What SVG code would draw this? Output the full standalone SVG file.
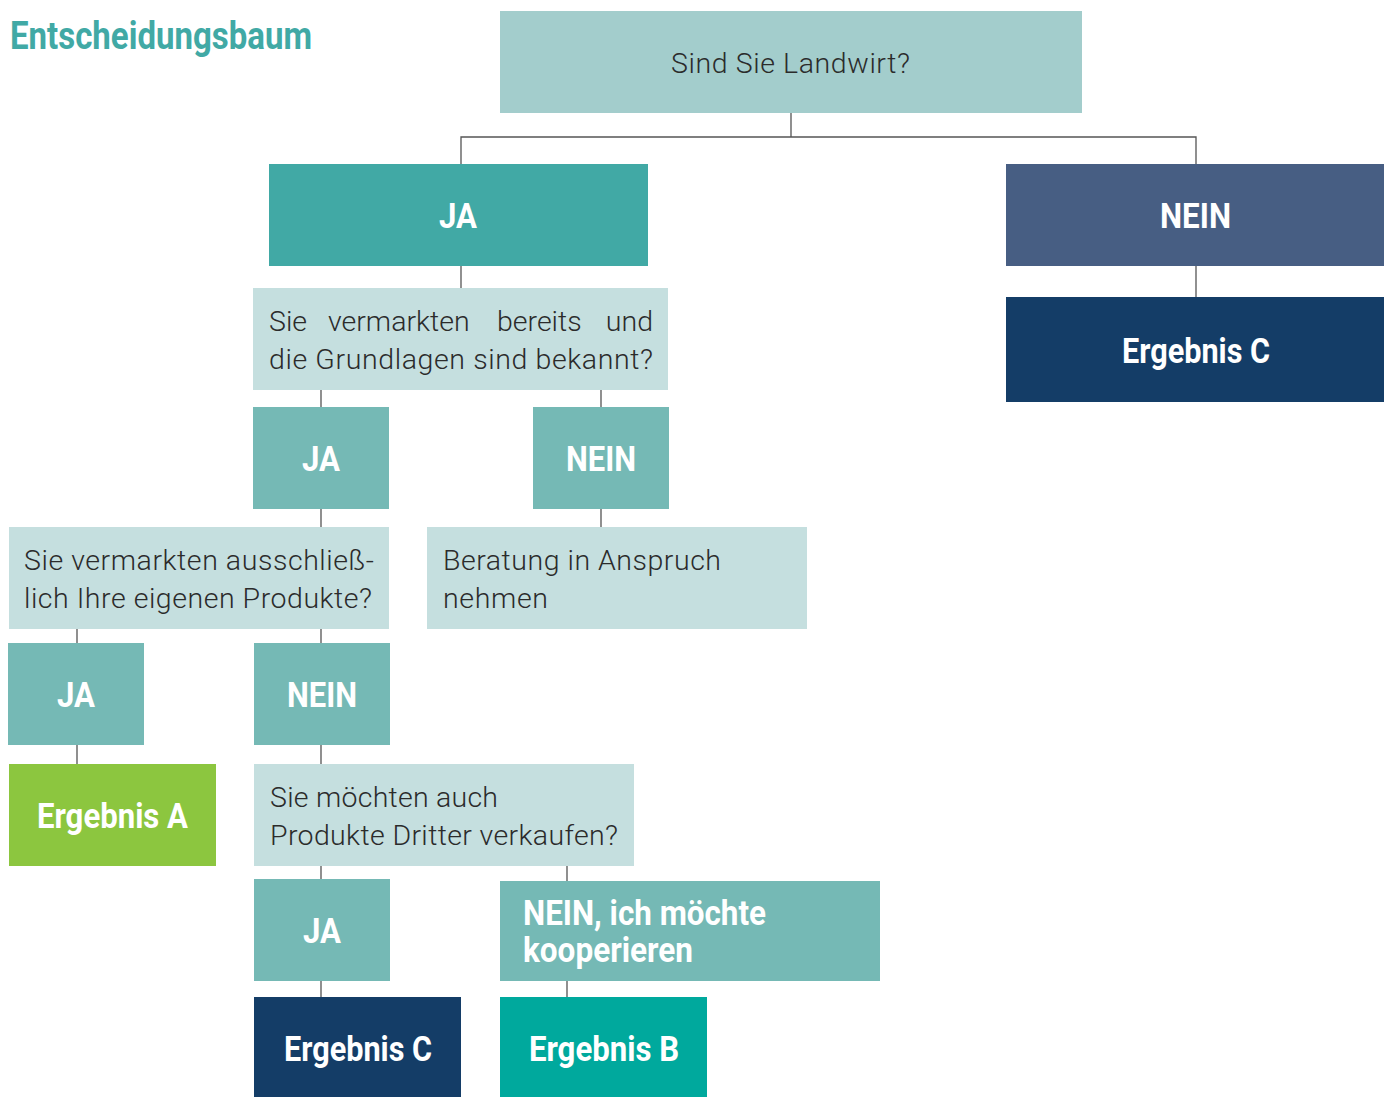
<svg xmlns="http://www.w3.org/2000/svg" width="1384" height="1098" viewBox="0 0 1384 1098">
<style>
.b{font-family:Roboto,"Liberation Sans",sans-serif;font-weight:bold;fill:#fff;font-size:35px}
.c{text-anchor:middle}
.r{font-family:Roboto,"Liberation Sans",sans-serif;font-weight:300;fill:#2b2b2b;font-size:28.5px}
.ln{stroke:#555;stroke-width:1.3;fill:none}
</style>
<rect width="1384" height="1098" fill="#fff"/>
<text x="10" y="49" class="b" style="fill:#41a9a5;font-size:39px" textLength="302" lengthAdjust="spacingAndGlyphs">Entscheidungsbaum</text>
<g id="connectors">
<path class="ln" d="M791,113V137M461,164V137H1196V164"/>
<path class="ln" d="M1196,266V297"/>
<path class="ln" d="M461,266V288"/>
<path class="ln" d="M321,390V407M601,390V407"/>
<path class="ln" d="M321,509V527M601,509V527"/>
<path class="ln" d="M77,629V643M321,629V643"/>
<path class="ln" d="M77,745V764M321,745V764"/>
<path class="ln" d="M321,866V879M567,866V881"/>
<path class="ln" d="M321,981V997M567,981V997"/>
</g>
<g id="q1"><rect x="500" y="11" width="582" height="102" fill="#a3cdcc"/><text x="671" y="73" class="r" textLength="239" lengthAdjust="spacing">Sind Sie Landwirt?</text></g>
<g id="ja1"><rect x="269" y="164" width="379" height="102" fill="#41a9a5"/><text x="439" y="228" class="b" textLength="38" lengthAdjust="spacingAndGlyphs">JA</text></g>
<g id="nein1"><rect x="1006" y="164" width="378" height="102" fill="#475e83"/><text x="1160" y="228" class="b" textLength="71" lengthAdjust="spacingAndGlyphs">NEIN</text></g>
<g id="ergC1"><rect x="1006" y="297" width="378" height="105" fill="#143d67"/><text x="1122" y="363" class="b" textLength="148" lengthAdjust="spacingAndGlyphs">Ergebnis C</text></g>
<g id="q2"><rect x="253" y="288" width="415" height="102" fill="#c5dfdf"/>
<text class="r" y="331"><tspan x="269">Sie</tspan><tspan x="328">vermarkten</tspan><tspan x="497">bereits</tspan><tspan x="653" text-anchor="end">und</tspan></text>
<text x="269" y="369" class="r" textLength="384" lengthAdjust="spacing">die Grundlagen sind bekannt?</text></g>
<g id="ja2"><rect x="253" y="407" width="136" height="102" fill="#75b9b5"/><text x="302" y="471" class="b" textLength="38" lengthAdjust="spacingAndGlyphs">JA</text></g>
<g id="nein2"><rect x="533" y="407" width="136" height="102" fill="#75b9b5"/><text x="566" y="471" class="b" textLength="70" lengthAdjust="spacingAndGlyphs">NEIN</text></g>
<g id="q3"><rect x="9" y="527" width="380" height="102" fill="#c5dfdf"/>
<text x="24" y="570" class="r" textLength="350" lengthAdjust="spacing">Sie vermarkten ausschließ-</text>
<text x="24" y="608" class="r" textLength="348" lengthAdjust="spacing">lich Ihre eigenen Produkte?</text></g>
<g id="beratung"><rect x="427" y="527" width="380" height="102" fill="#c5dfdf"/>
<text x="443" y="570" class="r" textLength="278" lengthAdjust="spacing">Beratung in Anspruch</text>
<text x="443" y="608" class="r" textLength="105" lengthAdjust="spacing">nehmen</text></g>
<g id="ja3"><rect x="8" y="643" width="136" height="102" fill="#75b9b5"/><text x="57" y="707" class="b" textLength="38" lengthAdjust="spacingAndGlyphs">JA</text></g>
<g id="nein3"><rect x="254" y="643" width="136" height="102" fill="#75b9b5"/><text x="287" y="707" class="b" textLength="70" lengthAdjust="spacingAndGlyphs">NEIN</text></g>
<g id="ergA"><rect x="9" y="764" width="207" height="102" fill="#8cc63f"/><text x="37" y="828" class="b" textLength="151" lengthAdjust="spacingAndGlyphs">Ergebnis A</text></g>
<g id="q4"><rect x="254" y="764" width="380" height="102" fill="#c5dfdf"/>
<text x="270" y="807" class="r" textLength="228" lengthAdjust="spacing">Sie möchten auch</text>
<text x="270" y="845" class="r" textLength="348" lengthAdjust="spacing">Produkte Dritter verkaufen?</text></g>
<g id="ja4"><rect x="254" y="879" width="136" height="102" fill="#75b9b5"/><text x="303" y="943" class="b" textLength="38" lengthAdjust="spacingAndGlyphs">JA</text></g>
<g id="nein4"><rect x="500" y="881" width="380" height="100" fill="#75b9b5"/>
<text x="523" y="925" class="b" textLength="243" lengthAdjust="spacingAndGlyphs">NEIN, ich möchte</text>
<text x="523" y="962" class="b" textLength="170" lengthAdjust="spacingAndGlyphs">kooperieren</text></g>
<g id="ergC2"><rect x="254" y="997" width="207" height="100" fill="#143d67"/><text x="284" y="1061" class="b" textLength="148" lengthAdjust="spacingAndGlyphs">Ergebnis C</text></g>
<g id="ergB"><rect x="500" y="997" width="207" height="100" fill="#00a99d"/><text x="529" y="1061" class="b" textLength="150" lengthAdjust="spacingAndGlyphs">Ergebnis B</text></g>
</svg>
